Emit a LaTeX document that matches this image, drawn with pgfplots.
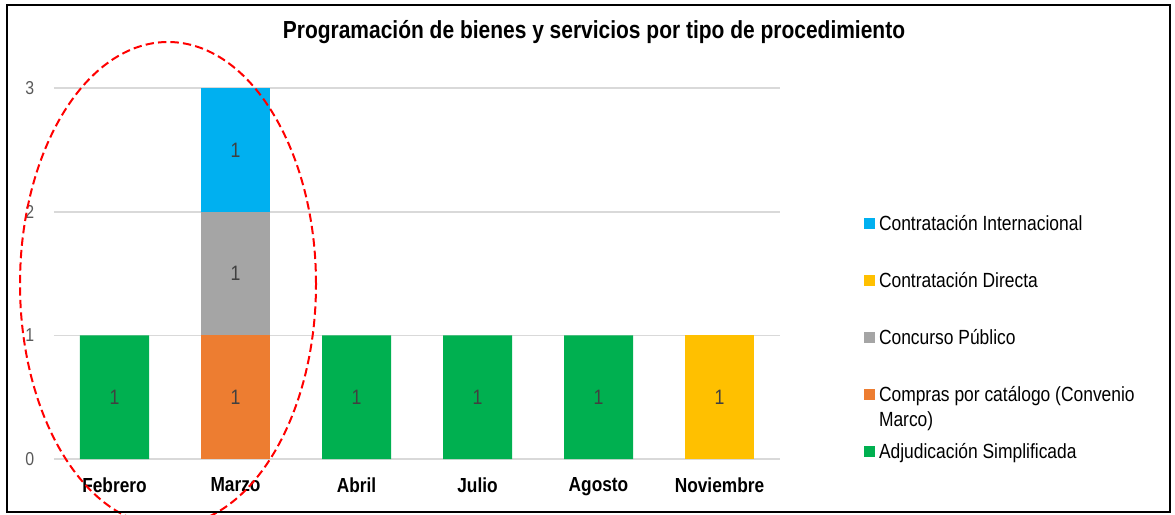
\documentclass[border=0pt]{standalone}
\usepackage{pgfplots}
\pgfplotsset{compat=1.18}
\usepackage{fontspec}
\setmainfont{Liberation Sans}[FakeStretch=0.85]

\definecolor{cInt}{HTML}{00B0F0}
\definecolor{cDir}{HTML}{FFC000}
\definecolor{cCon}{HTML}{A5A5A5}
\definecolor{cCat}{HTML}{ED7D31}
\definecolor{cAdj}{HTML}{00B050}
\definecolor{cGrid}{HTML}{D9D9D9}
\definecolor{cTick}{HTML}{595959}
\definecolor{cLab}{HTML}{404040}

% fixed height/depth so that legend rows are evenly spaced
\newcommand{\legtxt}[1]{\raisebox{0pt}[10pt][1.5pt]{#1}}

\begin{document}
\begin{tikzpicture}[x=0.6pt,y=0.6pt]
\path[use as bounding box] (0,0) rectangle (1175,514);
\begin{axis}[
    at={(32.4pt,33pt)}, anchor=south west,
    scale only axis,
    width=435.6pt, height=222.6pt,
    ybar stacked, bar width=41.4pt,
    xmin=-0.5, xmax=5.5, ymin=0, ymax=3,
    xtick={0,1,2,3,4,5},
    xticklabels={Febrero,Marzo,Abril,Julio,Agosto,Noviembre},
    ytick={0,1,2,3},
    axis line style={draw=none},
    major tick length=0pt,
    ymajorgrids,
    grid style={draw=cGrid, line width=1pt},
    /pgf/number format/assume math mode=true,
    xticklabel style={font=\fontsize{12.2}{14}\selectfont\bfseries, text=black, yshift=-7.8pt},
    yticklabel style={font=\fontsize{11.2}{13}\selectfont, text=cTick, xshift=-8.4pt},
    title={Programación de bienes y servicios por tipo de procedimiento},
    title style={font=\fontsize{14.8}{17}\selectfont\bfseries, at={(0.7438,1.124)}, anchor=center},
    nodes near coords={\pgfmathfloatifflags{\pgfplotspointmeta}{0}{}{\pgfmathprintnumber\pgfplotspointmeta}},
    % stacked bars already put the label in the middle of its segment
    every node near coord/.append style={font=\fontsize{12.5}{14}\selectfont, text=cLab, anchor=center},
    reverse legend,
    legend cell align=left,
    legend image code/.code={\draw[#1,draw=none] (0pt,-3.3pt) rectangle (6.6pt,3.3pt);},
    legend style={at={(1.1157,0.6604)}, anchor=north west, draw=none, fill=none,
        inner sep=0pt, outer sep=0pt, row sep=22.7pt, column sep=2.4pt,
        font=\fontsize{12.3}{15}\selectfont, nodes={inner sep=0pt}},
]
\addplot[fill=cAdj, draw=none] coordinates {(0,1) (1,0) (2,1) (3,1) (4,1) (5,0)};
\addlegendentry{\legtxt{Adjudicación Simplificada}}
\addplot[fill=cCat, draw=none] coordinates {(0,0) (1,1) (2,0) (3,0) (4,0) (5,0)};
\addlegendentry{\legtxt{\begin{tabular}[t]{@{}l@{}}Compras por catálogo (Convenio\\Marco)\end{tabular}}}
\addplot[fill=cCon, draw=none] coordinates {(0,0) (1,1) (2,0) (3,0) (4,0) (5,0)};
\addlegendentry{\legtxt{Concurso Público}}
\addplot[fill=cDir, draw=none] coordinates {(0,0) (1,0) (2,0) (3,0) (4,0) (5,1)};
\addlegendentry{\legtxt{Contratación Directa}}
\addplot[fill=cInt, draw=none] coordinates {(0,0) (1,1) (2,0) (3,0) (4,0) (5,0)};
\addlegendentry{\legtxt{Contratación Internacional}}
\end{axis}
\begin{scope}
\clip (0,0) rectangle (1175,514);
\draw[red, line width=1.2pt, dash pattern=on 5pt off 2.5pt] (168,230) ellipse [x radius=148, y radius=242];
\end{scope}
\draw[line width=1pt] (7,2) rectangle (1170,509);
\end{tikzpicture}
\end{document}
